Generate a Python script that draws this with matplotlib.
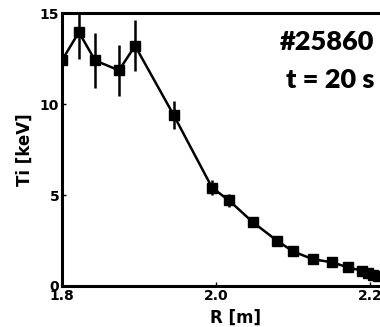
import matplotlib
matplotlib.use("Agg")
import matplotlib.pyplot as plt
import numpy as np

# Ti profile, shot 25860 at t = 20 s
R = [1.800, 1.822, 1.843, 1.874, 1.895, 1.945, 1.995, 2.017, 2.048,
     2.079, 2.100, 2.126, 2.151, 2.171, 2.190, 2.197, 2.204, 2.210]
Ti = [12.4, 13.95, 12.4, 11.85, 13.2, 9.4, 5.4, 4.7, 3.5,
      2.5, 1.9, 1.47, 1.3, 1.03, 0.83, 0.7, 0.63, 0.57]
Ti_err = [0.0, 1.5, 1.5, 1.4, 1.4, 0.75, 0.4, 0.35, 0.15,
          0.1, 0.1, 0.08, 0.08, 0.06, 0.05, 0.05, 0.05, 0.05]

xticks = [1.8, 2.0, 2.2]
yticks = [0, 5, 10, 15]

fig = plt.figure(figsize=(3.8, 3.27), dpi=100)
ax = fig.add_axes([0.163, 0.1254, 0.912, 0.8346])

ax.errorbar(R, Ti, yerr=Ti_err, color='black', lw=1.8, marker='s', ms=6.5,
            elinewidth=1.8, capsize=0)

ax.set_xlim(1.8, 2.25)
ax.set_ylim(0, 15)
ax.set_xticks(xticks)
ax.set_xticklabels(['1.8', '2.0', '2.2'])
ax.set_yticks(yticks)
ax.tick_params(direction='in', length=3, width=1, labelsize=10, pad=2)
for lab in ax.get_xticklabels() + ax.get_yticklabels():
    lab.set_fontweight('bold')
for sp in ax.spines.values():
    sp.set_linewidth(2.2)

ax.set_xlabel('R [m]', fontsize=12, fontweight='bold', labelpad=4)
ax.set_ylabel('Ti [keV]', fontsize=12, fontweight='bold', labelpad=4)

fig.text(0.985, 0.872, '#25860', ha='right', va='center', fontsize=19.5,
         fontweight='heavy', family='Lato')
fig.text(0.985, 0.755, 't = 20 s', ha='right', va='center', fontsize=19.5,
         fontweight='heavy', family='Lato')

fig.savefig('out.png', dpi=100)
